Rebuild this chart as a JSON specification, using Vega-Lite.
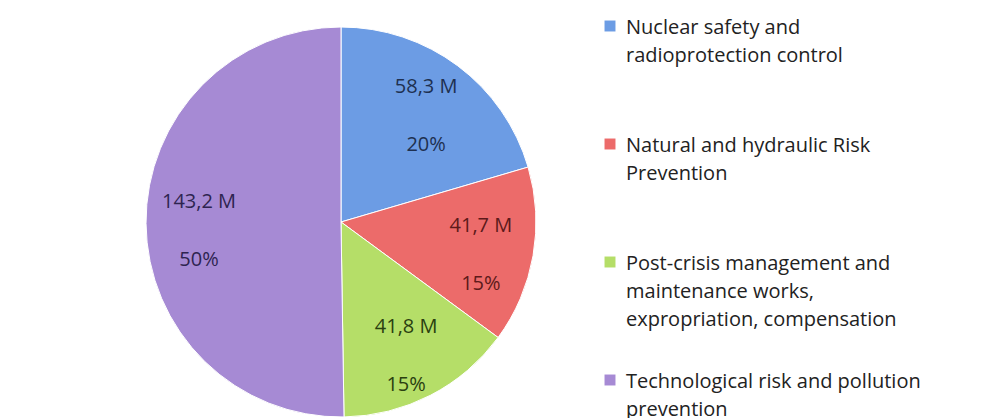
{
  "$schema": "https://vega.github.io/schema/vega-lite/v6.json",
  "width": 682,
  "height": 392,
  "padding": {"left": 0, "top": 26, "right": 321, "bottom": 0},
  "autosize": {"type": "none"},
  "background": "white",
  "config": {
    "view": {"stroke": null},
    "style": {"guide-label": {"lineHeight": 28, "dy": -8}}
  },
  "data": {
    "values": [
      {"idx": 1, "category": "Nuclear safety and radioprotection control", "value": 58.3, "amount": "58,3 M", "share": "20%"},
      {"idx": 2, "category": "Natural and hydraulic Risk Prevention", "value": 41.7, "amount": "41,7 M", "share": "15%"},
      {"idx": 3, "category": "Post-crisis management and maintenance works, expropriation, compensation", "value": 41.8, "amount": "41,8 M", "share": "15%"},
      {"idx": 4, "category": "Technological risk and pollution prevention", "value": 143.2, "amount": "143,2 M", "share": "50%"}
    ]
  },
  "encoding": {
    "theta": {"field": "value", "type": "quantitative", "stack": true},
    "order": {"field": "idx", "type": "quantitative"}
  },
  "layer": [
    {
      "mark": {"type": "arc", "outerRadius": 195, "stroke": "white", "strokeWidth": 1},
      "encoding": {
        "color": {
          "field": "category",
          "type": "nominal",
          "sort": null,
          "scale": {
            "domain": [
              "Nuclear safety and radioprotection control",
              "Natural and hydraulic Risk Prevention",
              "Post-crisis management and maintenance works, expropriation, compensation",
              "Technological risk and pollution prevention"
            ],
            "range": ["#6C9CE4", "#EC6B6A", "#B5DE68", "#A68AD4"]
          },
          "legend": {
            "title": null,
            "orient": "none",
            "legendX": 600,
            "legendY": -10,
            "symbolType": "square",
            "symbolSize": 120,
            "symbolStrokeWidth": 0,
            "labelFont": "Open Sans",
            "labelFontSize": 20,
            "labelColor": "#222222",
            "labelLimit": 0,
            "labelBaseline": "top",
            "labelOffset": 6,
            "gridAlign": "all",
            "rowPadding": 40,
            "labelExpr": "indexof(datum.label, 'Nuclear') == 0 ? ['Nuclear safety and', 'radioprotection control'] : indexof(datum.label, 'Natural') == 0 ? ['Natural and hydraulic Risk', 'Prevention'] : indexof(datum.label, 'Post') == 0 ? ['Post-crisis management and', 'maintenance works,', 'expropriation, compensation'] : ['Technological risk and pollution', 'prevention']"
          }
        }
      }
    },
    {
      "mark": {"type": "text", "radius": 142, "dy": -21, "font": "Open Sans", "fontSize": 20},
      "encoding": {
        "text": {"field": "amount"},
        "color": {
          "field": "category",
          "type": "nominal",
          "sort": null,
          "scale": {
            "domain": [
              "Nuclear safety and radioprotection control",
              "Natural and hydraulic Risk Prevention",
              "Post-crisis management and maintenance works, expropriation, compensation",
              "Technological risk and pollution prevention"
            ],
            "range": ["#1E3050", "#5C1A1A", "#2A4010", "#2E2450"]
          },
          "legend": null
        }
      }
    },
    {
      "mark": {"type": "text", "radius": 142, "dy": 37, "font": "Open Sans", "fontSize": 20},
      "encoding": {
        "text": {"field": "share"},
        "color": {
          "field": "category",
          "type": "nominal",
          "sort": null,
          "scale": {
            "domain": [
              "Nuclear safety and radioprotection control",
              "Natural and hydraulic Risk Prevention",
              "Post-crisis management and maintenance works, expropriation, compensation",
              "Technological risk and pollution prevention"
            ],
            "range": ["#1E3050", "#5C1A1A", "#2A4010", "#2E2450"]
          },
          "legend": null
        }
      }
    }
  ],
  "resolve": {"scale": {"color": "independent"}}
}
